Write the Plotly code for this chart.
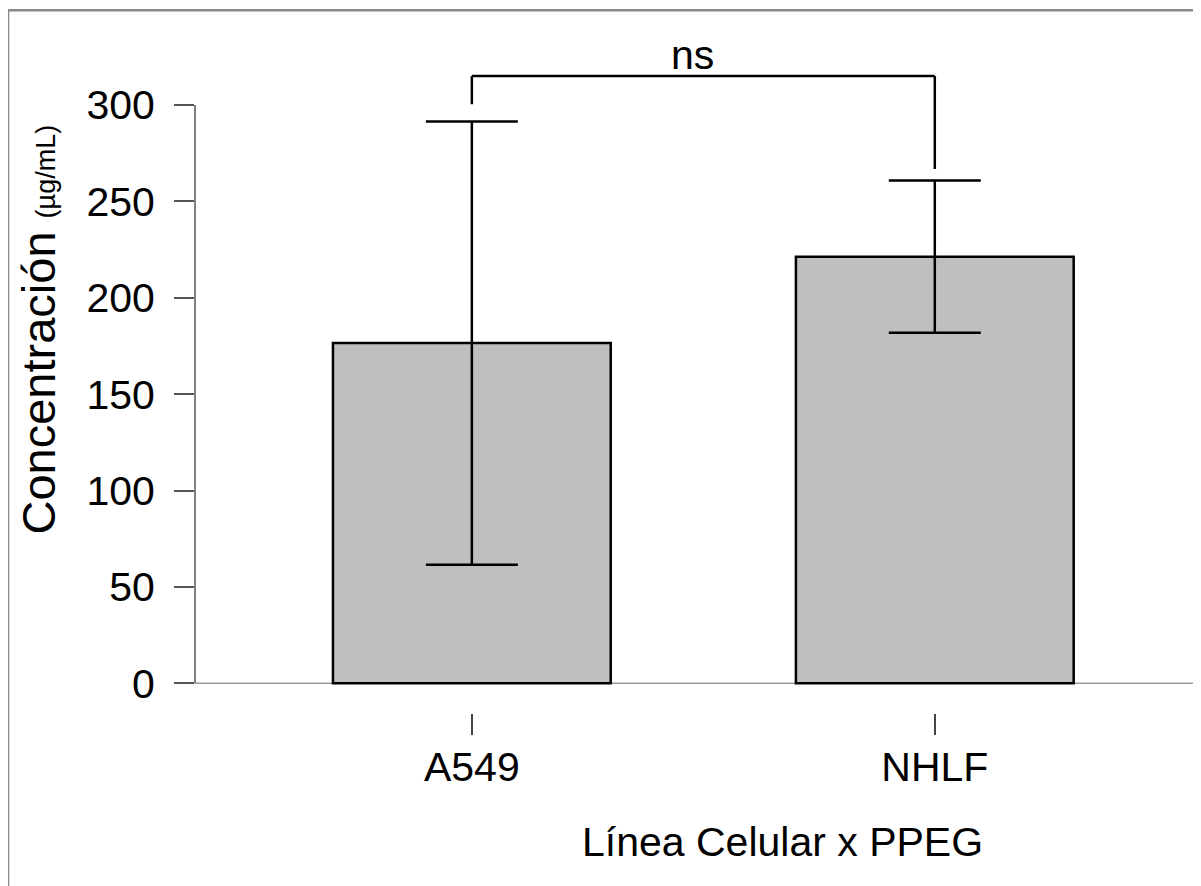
import plotly.graph_objects as go

# ---- data ----
categories = ["A549", "NHLF"]
means = [176.5, 221.3]
sds = [115.0, 39.5]
y_ticks = [0, 50, 100, 150, 200, 250, 300]
sig_label = "ns"
sig_top = 315.0
sig_ends = [300.4, 266.8]

# ---- axis ranges ----
Y_MIN, Y_MAX = -15.4, 300
X_MIN, X_MAX = -0.598, 1.575


def py(v):
    return (v - Y_MIN) / (Y_MAX - Y_MIN)


FONT = "Liberation Sans, Arial, sans-serif"

fig = go.Figure()
fig.add_trace(go.Bar(
    x=categories, y=means, width=0.6,
    marker=dict(color="#bfbfbf", line=dict(color="black", width=2.5)),
    error_y=dict(type="data", array=sds, visible=True, color="black",
                 thickness=2.5, width=46),
    showlegend=False,
))

shapes = []
# x axis line at y=0
shapes.append(dict(type="line", xref="paper", yref="paper", x0=0, x1=1,
                   y0=py(0), y1=py(0), line=dict(color="#9a9a9a", width=1.5),
                   layer="below"))
# y axis line from 0 to max
shapes.append(dict(type="line", xref="paper", yref="paper", x0=0, x1=0,
                   y0=py(0), y1=py(Y_MAX), line=dict(color="#555555", width=1.5)))
# significance bracket
shapes.append(dict(type="line", xref="x", yref="paper", x0=0, x1=0,
                   y0=py(sig_ends[0]), y1=py(sig_top), line=dict(color="black", width=2.5)))
shapes.append(dict(type="line", xref="x", yref="paper", x0=0, x1=1,
                   y0=py(sig_top), y1=py(sig_top), line=dict(color="black", width=2.5)))
shapes.append(dict(type="line", xref="x", yref="paper", x0=1, x1=1,
                   y0=py(sig_ends[1]), y1=py(sig_top), line=dict(color="black", width=2.5)))
# outer frame
shapes.append(dict(type="rect", xref="paper", yref="paper", x0=-0.1859, x1=1.3,
                   y0=-0.6, y1=1.156, line=dict(color="#888888", width=2.5)))

annotations = [
    dict(text=sig_label, xref="x", yref="paper", x=0.5, xshift=-11,
         y=1.082, yanchor="middle", showarrow=False,
         font=dict(size=41, color="black", family=FONT)),
    dict(text="Línea Celular x PPEG", xref="paper", yref="paper", x=0.584,
         y=-0.212, xanchor="center", yanchor="middle", showarrow=False,
         font=dict(size=41, color="black", family=FONT)),
    dict(text="Concentración <span style='font-size:27px'>(µg/mL)</span>",
         xref="paper", yref="paper", x=-0.1555, y=0.63, textangle=-90,
         xanchor="center", yanchor="middle", showarrow=False,
         font=dict(size=47, color="black", family=FONT)),
]

fig.update_layout(
    width=1193, height=878,
    margin=dict(l=187, r=0, t=97, b=173),
    paper_bgcolor="white", plot_bgcolor="white",
    font=dict(family=FONT, color="black"),
    shapes=shapes, annotations=annotations,
    bargap=0.4,
)
fig.update_xaxes(range=[X_MIN, X_MAX], showline=False, showgrid=False,
                 zeroline=False, ticks="outside", ticklen=21, tickwidth=1.5,
                 tickcolor="#444444", tickfont=dict(size=41, color="black"),
                 ticklabelstandoff=-3)
fig.update_yaxes(range=[Y_MIN, Y_MAX], showline=False, showgrid=False,
                 zeroline=False, ticks="outside", ticklen=20, tickwidth=1.5,
                 tickcolor="#555555", tickvals=y_ticks,
                 tickfont=dict(size=41, color="black"), ticklabelstandoff=11)

fig.write_html("out.html")
